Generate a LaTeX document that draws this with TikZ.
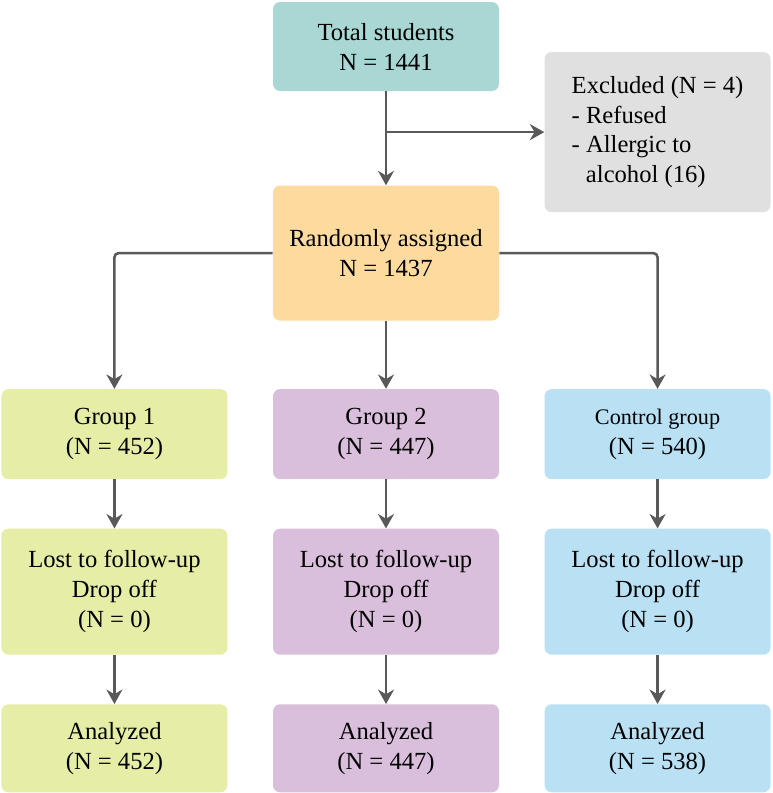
\documentclass[tikz,border=0pt]{standalone}
\usepackage{fontspec}
\setmainfont{Liberation Serif}
\usepackage{tikz}
\usetikzlibrary{positioning,calc,arrows.meta}
\usepackage{xcolor}
\definecolor{totalteal}{RGB}{169,216,212}
\definecolor{exclgray}{RGB}{224,224,224}
\definecolor{randorange}{RGB}{253,218,158}
\definecolor{grpgreen}{RGB}{230,237,166}
\definecolor{grppurple}{RGB}{218,191,220}
\definecolor{grpblue}{RGB}{185,224,243}
\definecolor{arrowgray}{RGB}{89,89,89}

\begin{document}
\begin{tikzpicture}[
    node distance=1.225cm and 1.125cm,
    box/.style={rectangle, rounded corners=5pt, draw=none, fill=#1,
                minimum width=5.65cm, minimum height=2.25cm,
                align=center, inner sep=4pt,
                font=\fontsize{17.5pt}{21.3pt}\selectfont},
    arrow/.style={-{Stealth[length=0.36cm, width=0.4cm]}, line width=1.8pt,
                  draw=arrowgray, rounded corners=3pt}
]
\useasboundingbox (0,0) rectangle (19.3,-19.825);

\node[box=totalteal, minimum height=2.225cm] (total) at (9.65,-1.1625) {
    Total students\\
    N = 1441
};

\node[box=exclgray, minimum height=4cm, align=left,
      right=1.125cm of total, yshift=-2.14cm] (excl) {
    Excluded (N = 4)\\
    - Refused\\
    - Allergic to\\
    \hspace*{0.58em}alcohol (16)
};

\node[box=randorange, minimum height=3.375cm, below=2.35cm of total] (rand) {
    Randomly assigned\\
    N = 1437
};

\node[box=grppurple, below=1.7cm of rand] (grpB) {
    Group 2\\
    (N = 447)
};
\node[box=grpgreen, left=of grpB] (grpA) {
    Group 1\\
    (N = 452)
};
\node[box=grpblue, right=of grpB] (grpC) {
    {\fontsize{15.8pt}{21.3pt}\selectfont Control group}\\
    (N = 540)
};

\node[box=grpgreen, minimum height=3.15cm, below=of grpA] (lostA) {
    Lost to follow-up\\
    Drop off\\
    (N = 0)
};
\node[box=grppurple, minimum height=3.15cm, below=of grpB] (lostB) {
    Lost to follow-up\\
    Drop off\\
    (N = 0)
};
\node[box=grpblue, minimum height=3.15cm, below=of grpC] (lostC) {
    Lost to follow-up\\
    Drop off\\
    (N = 0)
};

\node[box=grpgreen, minimum height=2.2cm, below=of lostA] (anaA) {
    Analyzed\\
    (N = 452)
};
\node[box=grppurple, minimum height=2.2cm, below=of lostB] (anaB) {
    Analyzed\\
    (N = 447)
};
\node[box=grpblue, minimum height=2.2cm, below=of lostC] (anaC) {
    Analyzed\\
    (N = 538)
};

\draw[arrow] (total) -- (rand);
\draw[arrow] (total.south |- excl.west) -- (excl.west);

\draw[arrow] (rand.west) -| (grpA.north);
\draw[arrow] (rand) -- (grpB);
\draw[arrow] (rand.east) -| (grpC.north);

\draw[arrow] (grpA) -- (lostA);
\draw[arrow] (grpB) -- (lostB);
\draw[arrow] (grpC) -- (lostC);

\draw[arrow] (lostA) -- (anaA);
\draw[arrow] (lostB) -- (anaB);
\draw[arrow] (lostC) -- (anaC);

\end{tikzpicture}
\end{document}
